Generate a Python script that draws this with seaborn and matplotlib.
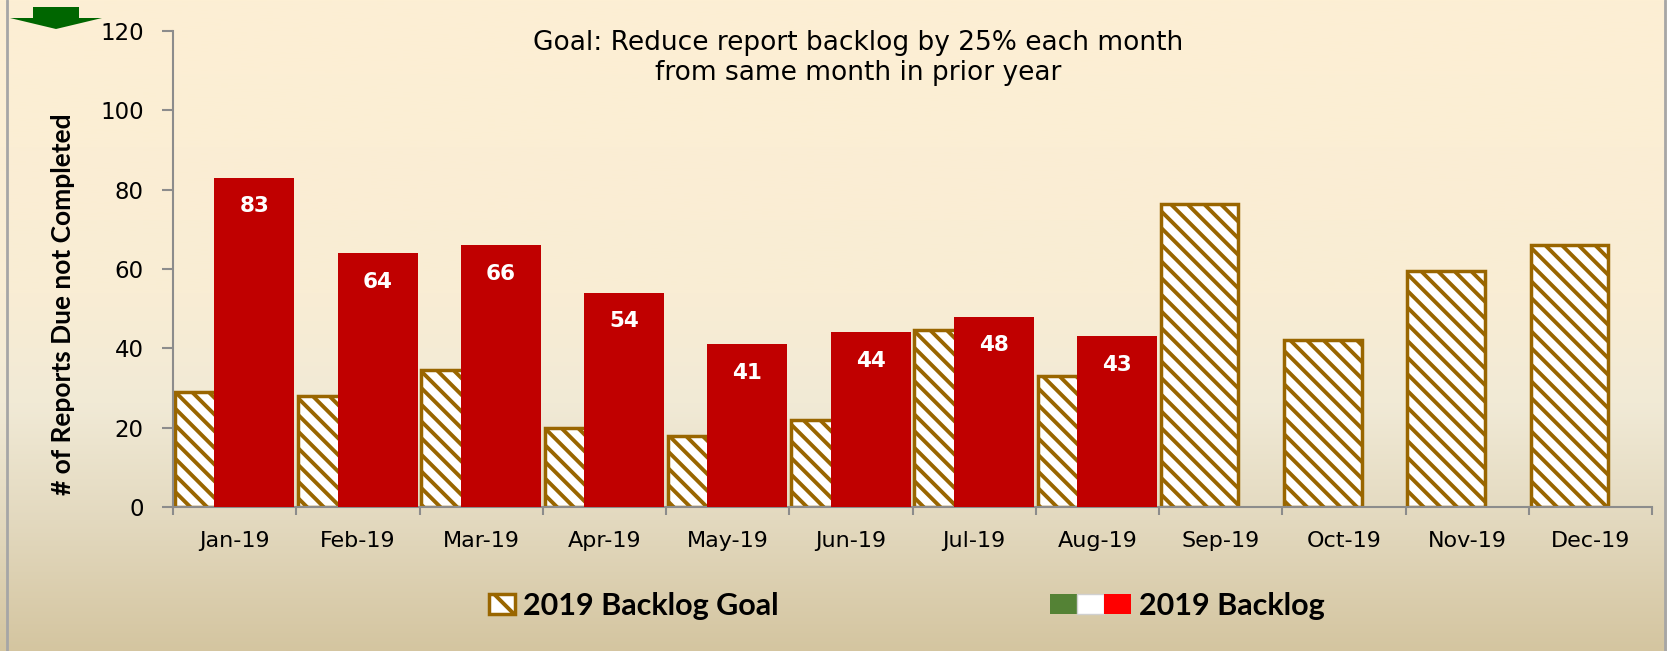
import numpy as np
import pandas as pd
import seaborn as sns
import matplotlib
matplotlib.use("Agg")
import matplotlib.pyplot as plt
from matplotlib.patches import Patch, Polygon
from matplotlib.lines import Line2D
from matplotlib.legend_handler import HandlerTuple

# data
months = ["Jan-19", "Feb-19", "Mar-19", "Apr-19", "May-19", "Jun-19",
          "Jul-19", "Aug-19", "Sep-19", "Oct-19", "Nov-19", "Dec-19"]
goal_2019 = [29, 28, 34.5, 20, 18, 22, 44.5, 33, 76.5, 42, 59.5, 66]
backlog_months = months[:8]
backlog_2019 = [83, 64, 66, 54, 41, 44, 48, 43]
y_ticks = [0, 20, 40, 60, 80, 100, 120]

title = "Goal: Reduce report backlog by 25% each month\nfrom same month in prior year"
y_label = "# of Reports Due not Completed"

BROWN = "#996600"
RED = "#C00000"
AXIS_GRAY = "#8C8C8C"

sns.set_theme(style="white")
plt.rcParams["font.family"] = ["DejaVu Sans"]
plt.rcParams["text.color"] = "black"
plt.rcParams["hatch.linewidth"] = 2.8

W, H = 1667, 651
fig = plt.figure(figsize=(W / 100, H / 100), dpi=100)

# background gradient (cream at top to tan at bottom)
bg = fig.add_axes([0, 0, 1, 1], zorder=-10)
stops = [0.0, 0.45, 0.62, 0.8, 1.0]
stop_cols = np.array([(253, 239, 212), (249, 237, 212), (241, 234, 214),
                      (227, 217, 191), (212, 197, 160)]) / 255
t = np.linspace(0, 1, 400)
grad = np.stack([np.interp(t, stops, stop_cols[:, k]) for k in range(3)], axis=1)
bg.imshow(grad[:, None, :], aspect="auto", extent=[0, 1, 0, 1])
bg.set_axis_off()

ax = fig.add_axes([173 / W, 1 - 507 / H, (1652 - 173) / W, (507 - 31) / H])
ax.patch.set_alpha(0)

goal_df = pd.DataFrame({"month": months, "reports": goal_2019})
backlog_df = pd.DataFrame({"month": backlog_months, "reports": backlog_2019})

sns.barplot(data=goal_df, x="month", y="reports", order=months, color="white",
            saturation=1, edgecolor=BROWN, linewidth=2.5, hatch="\\\\",
            width=0.63, errorbar=None, ax=ax, zorder=2)
n_goal = len(ax.patches)
for p in ax.patches[:n_goal]:
    p.set_x(p.get_x() - 0.17)

sns.barplot(data=backlog_df, x="month", y="reports", order=months, color=RED,
            saturation=1, linewidth=0, width=0.65, errorbar=None, ax=ax, zorder=3)
red_bars = ax.patches[n_goal:]
for p in red_bars:
    p.set_x(p.get_x() + 0.16)

for p, v in zip(red_bars, backlog_2019):
    ax.text(p.get_x() + p.get_width() / 2, v - 7.2, f"{v:g}", ha="center", va="center",
            color="white", fontsize=15.5, fontweight="bold", zorder=4)

ax.set_xlim(-0.5, 11.5)
ax.set_ylim(0, 120)
ax.set_yticks(y_ticks)
ax.set_xticks(range(len(months)), months)
ax.set_xticks(np.arange(-0.5, len(months), 1), minor=True)
ax.tick_params(axis="x", which="major", length=0, pad=17, labelsize=16, labelcolor="black")
ax.tick_params(axis="x", which="minor", bottom=True, length=6, width=1.5, color=AXIS_GRAY)
ax.tick_params(axis="y", left=True, length=8, width=1.5, color=AXIS_GRAY, pad=13,
               labelsize=16.5, labelcolor="black")
for side in ["top", "right"]:
    ax.spines[side].set_visible(False)
for side in ["left", "bottom"]:
    ax.spines[side].set_color(AXIS_GRAY)
    ax.spines[side].set_linewidth(1.5)

ax.set_xlabel("")
ax.set_ylabel(y_label, family=["Lato", "DejaVu Sans"],
              fontweight="bold", fontsize=19, color="black", va="center")
ax.yaxis.set_label_coords((63 - 173) / (1652 - 173), (507 - 304) / (507 - 31))

fig.text(858 / W, 1 - 58 / H, title, ha="center", va="center", fontsize=19,
         linespacing=1.25, color="black")

# legends
goal_handle = Patch(facecolor="white", edgecolor=BROWN, hatch="\\", linewidth=2.5)
backlog_handle = (Patch(facecolor="#548235", edgecolor="none"),
                  Patch(facecolor="white", edgecolor="#D0D0D0", linewidth=1),
                  Patch(facecolor="#FF0000", edgecolor="none"))
leg_font = dict(family=["Lato", "DejaVu Sans"], weight="bold", size=22)
for handle, text, x0, hl in [(goal_handle, "2019 Backlog Goal", 489, 0.85),
                             (backlog_handle, "2019 Backlog", 1050, 2.65)]:
    leg = fig.legend([handle], [text], loc="center left",
                     handler_map={tuple: HandlerTuple(ndivide=None, pad=0)},
                     bbox_to_anchor=(x0 / W, 1 - 606 / H), frameon=False, borderpad=0,
                     borderaxespad=0, handlelength=hl, handleheight=0.62,
                     handletextpad=0.25, prop=leg_font)
    for txt in leg.get_texts():
        txt.set_color("black")

# green down arrow in the top-left corner
arrow_px = [(33, 7), (79, 7), (79, 18), (102, 18), (56, 29), (10, 18), (33, 18)]
fig.add_artist(Polygon([(x / W, 1 - y / H) for x, y in arrow_px], closed=True,
                       facecolor="#006600", edgecolor="none", transform=fig.transFigure))

# frame lines at the left and right edges
for xp in (7, 1665):
    fig.add_artist(Line2D([xp / W, xp / W], [0, 1], color="#A6A6A6", linewidth=2,
                          transform=fig.transFigure))

fig.savefig("out.png", dpi=100)
